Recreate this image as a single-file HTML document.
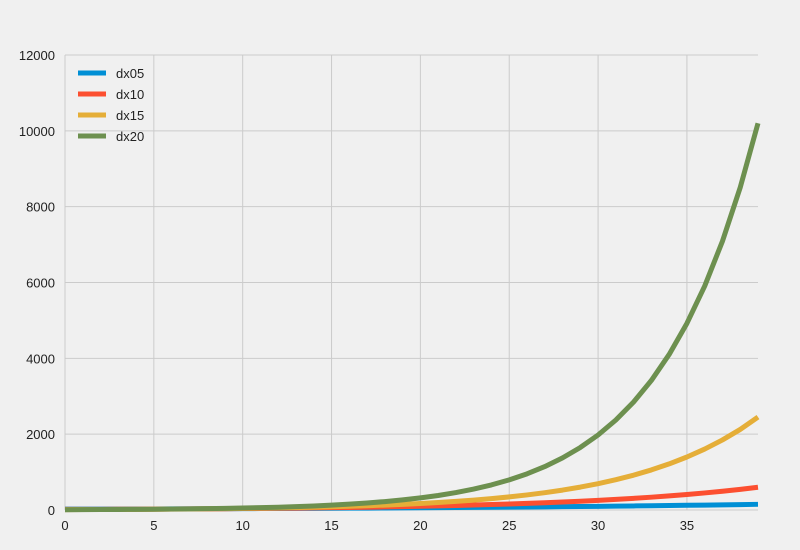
<!DOCTYPE html>
<html><head><meta charset="utf-8"><style>
body{margin:0;background:#f0f0f0;}
svg{display:block;font-family:"Liberation Sans",sans-serif;}
</style></head><body>
<svg id="chart" width="800" height="550">
<rect width="800" height="550" fill="#f0f0f0"/>
<g id="grid"></g>
<g id="ticks"></g>
<g id="series"></g>
<g id="legend"></g>
</svg>
<script>
const xTicks=[0,5,10,15,20,25,30,35];
const yTicks=[0,2000,4000,6000,8000,10000,12000];
const seriesNames=["dx05","dx10","dx15","dx20"];
const seriesColors=["#008fd5","#fc4f30","#e5ae38","#6d904f"];
const dx05=[22,23,24,26,27,28,30,31,33,34,36,38,40,42,44,46,49,51,54,56,59,62,65,69,72,76,80,84,88,92,97,102,107,112,118,124,130,136,143,150];
const dx10=[15,16,18,19,21,24,26,29,31,34,38,42,46,50,55,61,67,74,81,89,98,108,119,131,144,158,174,191,210,231,254,280,308,338,372,409,450,495,545,600];
const dx15=[10,12,14,16,18,21,24,28,32,37,42,49,56,65,74,85,98,113,130,149,172,197,227,261,300,345,397,457,525,604,695,799,919,1057,1215,1398,1607,1848,2125,2450];
const dx20=[8,10,12,14,17,21,25,30,36,43,52,62,74,89,107,128,154,185,222,266,320,383,460,552,662,795,954,1145,1374,1649,1978,2374,2849,3418,4102,4923,5907,7089,8507,10200];
const allSeries=[dx05,dx10,dx15,dx20];
const NS="http://www.w3.org/2000/svg";
const X0=65,X1=758,Y0=510,Y1=55;
const xs=v=>X0+v*(X1-X0)/39;
const ys=v=>Y0-v*(Y0-Y1)/12000;
function mk(t,a,p){const e=document.createElementNS(NS,t);for(const k in a)e.setAttribute(k,a[k]);p.appendChild(e);return e;}
const grid=document.getElementById('grid'),ticks=document.getElementById('ticks');
yTicks.forEach(v=>{
 const l=mk('line',{x1:X0,x2:X1,y1:ys(v),y2:ys(v),stroke:'#cbcbcb','stroke-width':1},grid);
 
 
 const t=mk('text',{x:X0-10,y:ys(v)+5,'text-anchor':'end','font-size':13,fill:'#222'},ticks);
 t.textContent=v;
 
 
});
xTicks.forEach(v=>{
 const l=mk('line',{x1:xs(v),x2:xs(v),y1:Y1,y2:Y0,stroke:'#cbcbcb','stroke-width':1},grid);
 
 
 const t=mk('text',{x:xs(v),y:Y0+20,'text-anchor':'middle','font-size':13,fill:'#222'},ticks);
 t.textContent=v;
 
 
});
const sg=document.getElementById('series');
allSeries.forEach((s,i)=>{
 const p=mk('polyline',{points:s.map((v,j)=>xs(j)+','+ys(v)).join(' '),fill:'none',stroke:seriesColors[i],'stroke-width':5,'stroke-linejoin':'round'},sg);
 
 
});
const lg=document.getElementById('legend');
seriesNames.forEach((n,i)=>{
 const y=73+i*21;
 const l=mk('line',{x1:78,x2:106,y1:y,y2:y,stroke:seriesColors[i],'stroke-width':5},lg);
 
 
 const t=mk('text',{x:116,y:y+5,'font-size':13,fill:'#222'},lg);
 t.textContent=n;
 
 
});
</script>
</body></html>
